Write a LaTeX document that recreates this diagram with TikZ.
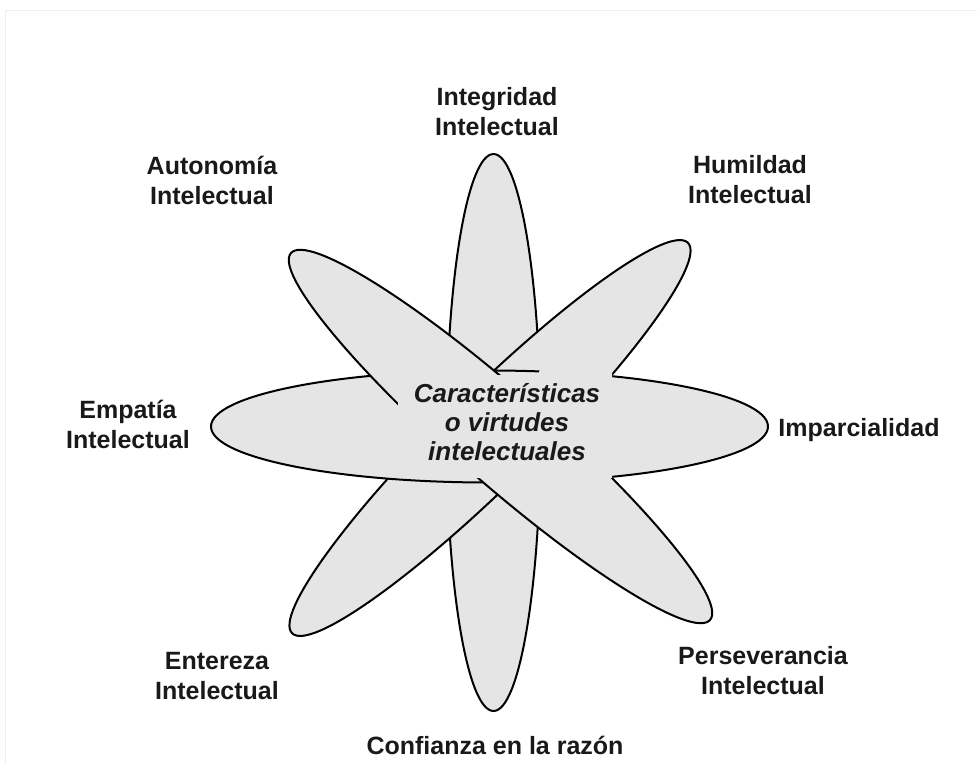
\documentclass[tikz,border=0pt]{standalone}
\usepackage{fontspec}
\setmainfont{Liberation Sans}
\tikzset{
  petal/.style={fill=black!10, draw=black, line width=2pt},
  lbl/.style={font=\fontsize{25}{30}\selectfont\bfseries, text=black!90, align=center, inner sep=0pt},
}
\begin{document}
\begin{tikzpicture}[x=1pt,y=-1pt]
      \useasboundingbox (0,0) rectangle (977,764);
      \draw[black!6, line width=1pt] (5,764)--(5,10)--(977,10);
      % the four petals, bottom one first
      \filldraw[petal] (493.5,432.5) ellipse [x radius=47pt, y radius=278.5pt];
      \filldraw[petal, rotate around={44.6:(490,438)}] (490,438) ellipse [x radius=278pt, y radius=46pt];
      \filldraw[petal] (489.5,426.5) ellipse [x radius=278.5pt, y radius=56pt];
      \filldraw[petal, rotate around={-41.2:(500.5,436.5)}] (500.5,436.5) ellipse [x radius=278.5pt, y radius=46pt];
      % clear the middle for the text
      \fill[black!10] (398,375)--(538,375)--(541,366)--(612,366)--(612,478)--(398,478)--cycle;
      \node[lbl, font=\fontsize{26}{29}\selectfont\bfseries\itshape] (centro) at (507,422) {Características\\o virtudes\\intelectuales};
      % labels round the flower
      \node[lbl] (integridad) at (497,112) {Integridad\\Intelectual};
      \node[lbl] (humildad) at (750,180) {Humildad\\Intelectual};
      \node[lbl] (imparcialidad) at (859,430) {Imparcialidad};
      \node[lbl] (perseverancia) at (763,671) {Perseverancia\\Intelectual};
      \node[lbl] (confianza) at (495,745) {Confianza en la razón};
      \node[lbl] (entereza) at (217,676) {Entereza\\Intelectual};
      \node[lbl] (empatia) at (128,424) {Empatía\\Intelectual};
      \node[lbl] (autonomia) at (212,180) {Autonomía\\Intelectual};
\end{tikzpicture}
\end{document}
